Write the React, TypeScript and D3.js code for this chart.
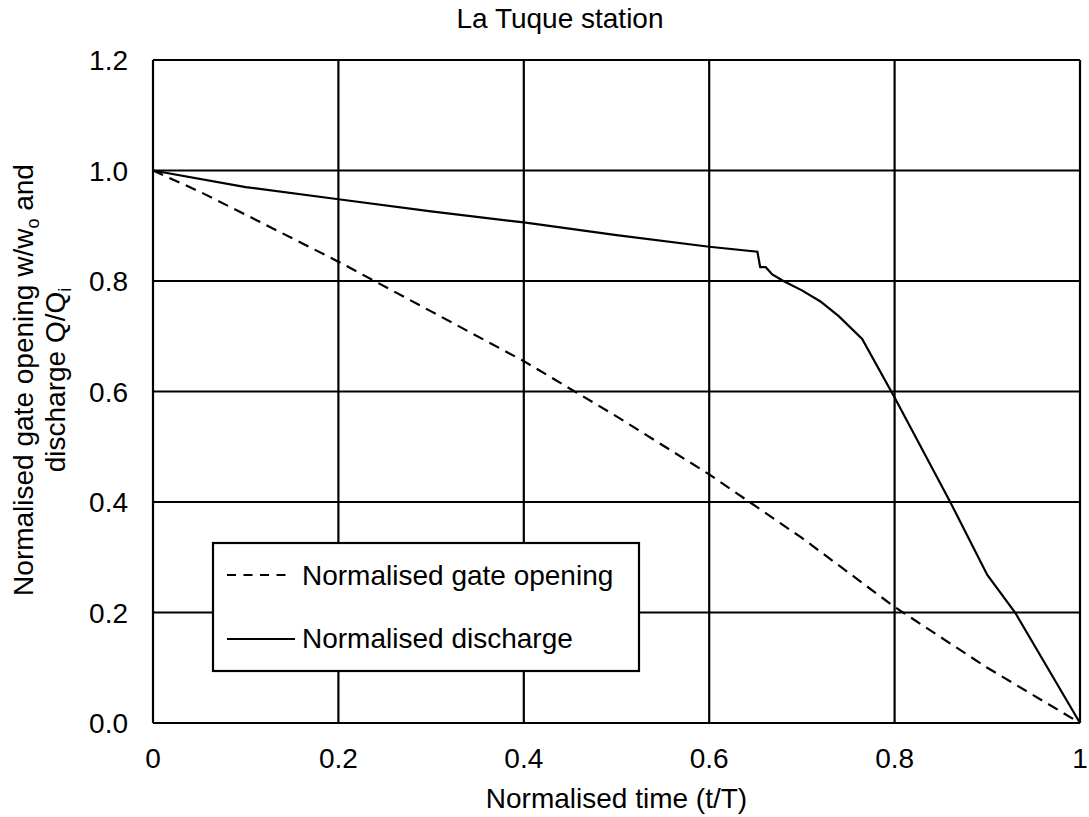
import React from "react";
import * as d3 from "d3";

const xTicks = [0, 0.2, 0.4, 0.6, 0.8, 1];
const xTickLabels = ["0", "0.2", "0.4", "0.6", "0.8", "1"];
const yTicks = [0, 0.2, 0.4, 0.6, 0.8, 1.0, 1.2];
const yTickLabels = ["0.0", "0.2", "0.4", "0.6", "0.8", "1.0", "1.2"];

const gateT = [0, 0.05, 0.1, 0.2, 0.3, 0.4, 0.5, 0.6, 0.7, 0.8, 0.9, 1.0];
const gateV = [1.0, 0.962, 0.92, 0.835, 0.745, 0.655, 0.555, 0.45, 0.335, 0.21, 0.1, 0.0];

const dischT = [0, 0.1, 0.2, 0.3, 0.4, 0.5, 0.6, 0.652, 0.655, 0.661, 0.668, 0.68, 0.7, 0.72, 0.74, 0.765, 0.8, 0.86, 0.9, 0.93, 1.0];
const dischV = [1.0, 0.97, 0.948, 0.926, 0.906, 0.883, 0.862, 0.853, 0.825, 0.825, 0.812, 0.8, 0.783, 0.763, 0.736, 0.695, 0.589, 0.4, 0.268, 0.2, 0.0];

const W = 1089, H = 817;
const M = { left: 153, right: 1080, top: 60, bottom: 723 };

export default function App() {
  const x = d3.scaleLinear().domain([0, 1]).range([M.left, M.right]);
  const y = d3.scaleLinear().domain([0, 1.2]).range([M.bottom, M.top]);
  const line = d3.line<[number, number]>().x(d => x(d[0])).y(d => y(d[1]));
  const gate = line(gateT.map((t, i) => [t, gateV[i]] as [number, number])) || "";
  const disch = line(dischT.map((t, i) => [t, dischV[i]] as [number, number])) || "";
  const font = "Liberation Sans, Arial, sans-serif";
  const fs = 28;
  return (
    <svg width={W} height={H} style={{ position: "absolute", left: 0, top: 0, background: "#fff" }} fontFamily={font}>
      <rect x={0} y={0} width={W} height={H} fill="#fff" />
      <text x={560} y={28} textAnchor="middle" fontSize={fs}>La Tuque station</text>
      {xTicks.map(t => (
        <line key={"gx" + t} x1={x(t)} x2={x(t)} y1={M.top} y2={M.bottom} stroke="#000" strokeWidth={2.2} />
      ))}
      {yTicks.map(t => (
        <line key={"gy" + t} x1={M.left} x2={M.right} y1={y(t)} y2={y(t)} stroke="#000" strokeWidth={2.2} />
      ))}
      {xTicks.map((t, i) => (
        <text key={"tx" + t} x={x(t)} y={M.bottom + 45} textAnchor="middle" fontSize={fs}>{xTickLabels[i]}</text>
      ))}
      {yTicks.map((t, i) => (
        <text key={"ty" + t} x={128} y={y(t) + 10} textAnchor="end" fontSize={fs}>{yTickLabels[i]}</text>
      ))}
      <path d={gate} fill="none" stroke="#000" strokeWidth={2.2} strokeDasharray="11,7" />
      <path d={disch} fill="none" stroke="#000" strokeWidth={2.2} />
      <g>
        <rect x={213} y={543} width={426} height={128} fill="#fff" stroke="#000" strokeWidth={2.2} />
        <line x1={227} x2={292} y1={575} y2={575} stroke="#000" strokeWidth={2} strokeDasharray="9,7.5" />
        <text x={302} y={585} fontSize={fs}>Normalised gate opening</text>
        <line x1={227} x2={295} y1={639} y2={639} stroke="#000" strokeWidth={2} />
        <text x={302} y={648} fontSize={fs}>Normalised discharge</text>
      </g>
      <text x={(M.left + M.right) / 2} y={808} textAnchor="middle" fontSize={fs}>Normalised time (t/T)</text>
      <g transform="translate(33, 380) rotate(-90)">
        <text x={0} y={0} textAnchor="middle" fontSize={fs}>
          Normalised gate opening w/w<tspan fontSize={18} dy={6}>o</tspan><tspan dy={-6}> and</tspan>
        </text>
      </g>
      <g transform="translate(65, 380) rotate(-90)">
        <text x={0} y={0} textAnchor="middle" fontSize={fs}>
          discharge Q/Q<tspan fontSize={18} dy={6}>i</tspan>
        </text>
      </g>
    </svg>
  );
}
